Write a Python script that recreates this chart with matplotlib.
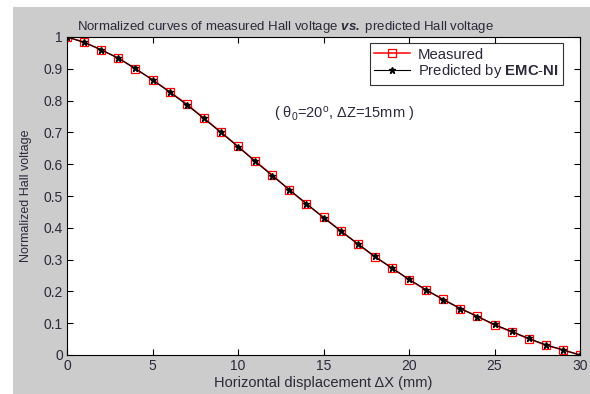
import matplotlib
matplotlib.use("Agg")
import matplotlib.pyplot as plt
from matplotlib.patches import Rectangle

x_mm = list(range(0, 31))
measured = [1.000, 0.984, 0.959, 0.934, 0.900, 0.866, 0.828, 0.789, 0.745, 0.701,
            0.656, 0.610, 0.566, 0.519, 0.475, 0.433, 0.391, 0.349, 0.309, 0.274,
            0.237, 0.204, 0.175, 0.146, 0.122, 0.094, 0.073, 0.051, 0.031, 0.016, 0.000]
predicted = [1.000, 0.983, 0.960, 0.933, 0.901, 0.865, 0.827, 0.787, 0.744, 0.700,
             0.655, 0.609, 0.564, 0.520, 0.476, 0.432, 0.390, 0.350, 0.310, 0.273,
             0.238, 0.205, 0.174, 0.146, 0.121, 0.096, 0.074, 0.052, 0.032, 0.016, 0.000]
x_ticks = [0, 5, 10, 15, 20, 25, 30]
y_ticks = [0, 0.1, 0.2, 0.3, 0.4, 0.5, 0.6, 0.7, 0.8, 0.9, 1.0]
y_tick_labels = ["0", "0.1", "0.2", "0.3", "0.4", "0.5", "0.6", "0.7", "0.8", "0.9", "1"]

plt.rcParams['font.family'] = ['Liberation Sans', 'DejaVu Sans']
plt.rcParams['mathtext.fontset'] = 'custom'
plt.rcParams['mathtext.rm'] = 'Liberation Sans'
plt.rcParams['mathtext.it'] = 'Liberation Sans:italic'
plt.rcParams['mathtext.bf'] = 'Liberation Sans:bold'
plt.rcParams['mathtext.bfit'] = 'Liberation Sans:bold:italic'
txt = '#2a2a3a'

W, H = 590, 394
fig = plt.figure(figsize=(W / 100, H / 100), dpi=100, facecolor='white')
fig.patches.append(Rectangle((13 / W, 0), 1 - 13 / W, (H - 7) / H,
                             transform=fig.transFigure, facecolor='#cccccc',
                             edgecolor='none', zorder=-10))

l, r, t, b = 67, 580, 37, 355
ax = fig.add_axes([l / W, 1 - b / H, (r - l) / W, (b - t) / H])
ax.set_facecolor('white')

ax.plot(x_mm, measured, color='red', lw=1.1, marker='s', ms=5.5, mfc='none',
        mec='red', mew=0.9, label='Measured')
ax.plot(x_mm, predicted, color='black', lw=0.8, marker='*', ms=5, mfc='black',
        mec='black', label='Predicted by $\\mathbf{EMC}$-$\\mathbf{NI}$')

ax.set_xlim(0, 30)
ax.set_ylim(0, 1)
ax.set_xticks(x_ticks)
ax.set_yticks(y_ticks)
ax.set_yticklabels(y_tick_labels)
ax.tick_params(direction='in', top=True, right=True, length=4, width=0.8,
               labelsize=10, labelcolor=txt, pad=3)
for s in ax.spines.values():
    s.set_linewidth(0.8)

ax.set_title('Normalized curves of measured Hall voltage $\\mathbfit{vs.}$ predicted Hall voltage',
             fontsize=9.5, color=txt, pad=5, x=0.425)
ax.set_xlabel('Horizontal displacement ΔX (mm)', fontsize=10.5, color=txt, labelpad=2)
ax.set_ylabel('Normalized Hall voltage', fontsize=9, color=txt, labelpad=8)

ax.text(16.2, 0.755, '( θ$_{\\mathrm{0}}$=20$^{\\mathrm{o}}$, ΔZ=15mm )', fontsize=10.5,
        color=txt, ha='center', va='center')

leg = ax.legend(loc='upper right', fontsize=10.7, frameon=True, fancybox=False,
                edgecolor='black', borderpad=0.3, labelspacing=0.05,
                handlelength=2.4, handletextpad=0.55, borderaxespad=0.0,
                bbox_to_anchor=(0.967, 0.981))
leg.get_frame().set_linewidth(0.8)
for tt in leg.get_texts():
    tt.set_color(txt)

fig.savefig('out.png', dpi=100, facecolor='white')
